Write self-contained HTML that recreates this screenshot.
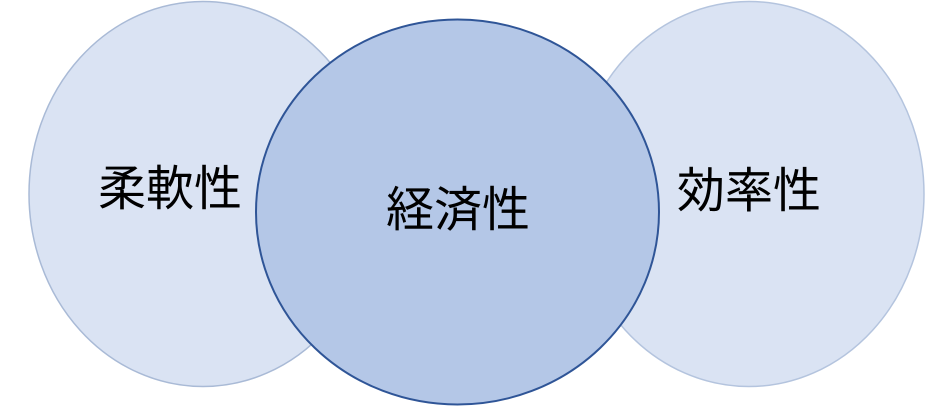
<!DOCTYPE html>
<html><head><meta charset="utf-8"><style>html,body{margin:0;padding:0;background:#fff;}svg{display:block}</style></head>
<body>
<svg width="925" height="406" viewBox="0 0 925 406" xmlns="http://www.w3.org/2000/svg">
<ellipse cx="203" cy="194" rx="174" ry="192.5" fill="#DAE3F3" stroke="#A9BAD6" stroke-width="1.5"/>
<ellipse cx="749" cy="194" rx="175" ry="192.5" fill="#DAE3F3" stroke="#B4C4DE" stroke-width="1.5"/>
<ellipse cx="457.5" cy="212" rx="201.5" ry="192.5" fill="#B4C7E7" stroke="#2F5597" stroke-width="2"/>
<g font-family="'Liberation Sans','Noto Sans CJK JP',sans-serif" font-size="48" fill="#000" text-anchor="middle">
<text x="170" y="205">柔軟性</text>
<text x="458" y="226">経済性</text>
<text x="749" y="207">効率性</text>
</g>
</svg>
</body></html>
